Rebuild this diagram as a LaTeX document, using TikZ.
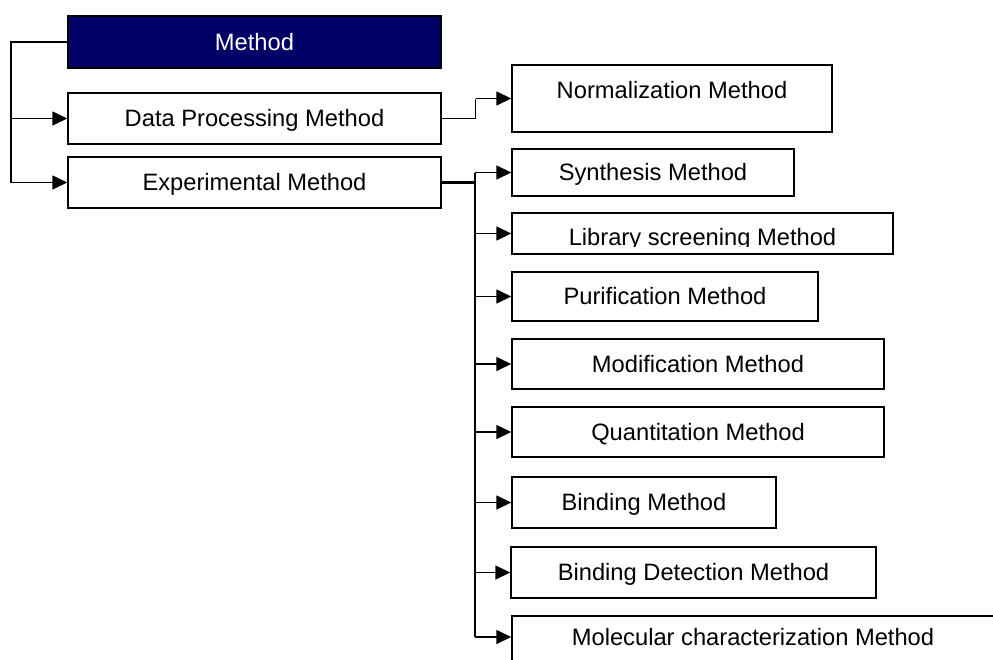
\documentclass[tikz,border=0pt]{standalone}
\usepackage{fontspec}
\setmainfont{Liberation Sans}
\usetikzlibrary{arrows.meta,calc}
\definecolor{headnavy}{RGB}{0,0,102}
\tikzset{
  box/.style={draw=black, line width=1.4pt, fill=white, inner sep=0pt,
    text height=16.8pt, text depth=0pt, font=\fontsize{23.7}{28}\selectfont},
  txt/.style={inner sep=0pt, text height=16.8pt, text depth=0pt,
    font=\fontsize{23.7}{28}\selectfont},
  conn/.style={draw=black, line width=1.5pt},
  heavy/.style={draw=black, line width=2.6pt},
  tip/.style={-{Triangle[length=15pt,width=14pt]}}
}
\begin{document}
\begin{tikzpicture}[x=1pt,y=-1pt]
  \useasboundingbox (0,0) rectangle (993,659);
  \clip (0,0) rectangle (993,659);

  % top level
  \node[box, fill=headnavy, text=white, minimum width=373, minimum height=52] (method) at (254.5,42) {Method};
  \node[box, minimum width=373, minimum height=51] (dpm) at (254.5,118.5) {Data Processing Method};
  \node[box, minimum width=373, minimum height=51] (exp) at (254.5,182.5) {Experimental Method};

  % data processing branch
  \node[box, minimum width=320, minimum height=67] (norm) at (672,98.5) {};
  \node[txt] (normtxt) at (672,90) {Normalization Method};

  % experimental branch
  \node[box, minimum width=282, minimum height=47] (syn) at (653,172.5) {Synthesis Method};
  \node[box, minimum width=381, minimum height=41] (lib) at (702.5,233.5) {};
  \begin{scope}
    \clip (512,213) rectangle (893,246);
    \node[txt] (libtxt) at (702.5,237.5) {Library screening Method};
  \end{scope}
  \node[box, minimum width=306, minimum height=49] (pur) at (665,296.5) {Purification Method};
  \node[box, minimum width=372, minimum height=50] (mod) at (698,364) {Modification Method};
  \node[box, minimum width=372, minimum height=50] (quant) at (698,432) {Quantitation Method};
  \node[box, minimum width=264, minimum height=51] (bind) at (644,502.5) {Binding Method};
  \node[box, minimum width=365, minimum height=51] (bdet) at (693.5,572.5) {Binding Detection Method};
  % last box runs past the lower and right edges
  \node[box, minimum width=500, minimum height=70] (mol) at (762,651) {};
  \node[txt] (moltxt) at (753,637) {Molecular characterization Method};

  % connectors
  \coordinate (L) at (11,0);
  \coordinate (R) at (475,0);
  \coordinate (Rn) at (475.5,0);

  \draw[conn] (method.west) -- (method.west -| L) -- (L |- exp.west);
  \draw[conn, tip] (L |- exp.west) -- (exp.west);
  \draw[conn, tip] (L |- dpm.west) -- (dpm.west);

  \draw[conn] (dpm.east) -- (Rn |- dpm.east) -- (Rn |- norm.west);
  \draw[conn, tip] (Rn |- norm.west) -- (norm.west);

  \draw[heavy] (exp.east) -- (R |- exp.east);
  \draw[heavy] (R |- syn.west) -- (R |- moltxt);
  \foreach \n in {syn,lib,pur,mod,quant,bind,bdet}{
    \draw[conn, tip] (R |- \n.west) -- (\n.west);
  }
  \draw[conn, tip] (R |- moltxt) -- (mol.west |- moltxt);
\end{tikzpicture}
\end{document}
